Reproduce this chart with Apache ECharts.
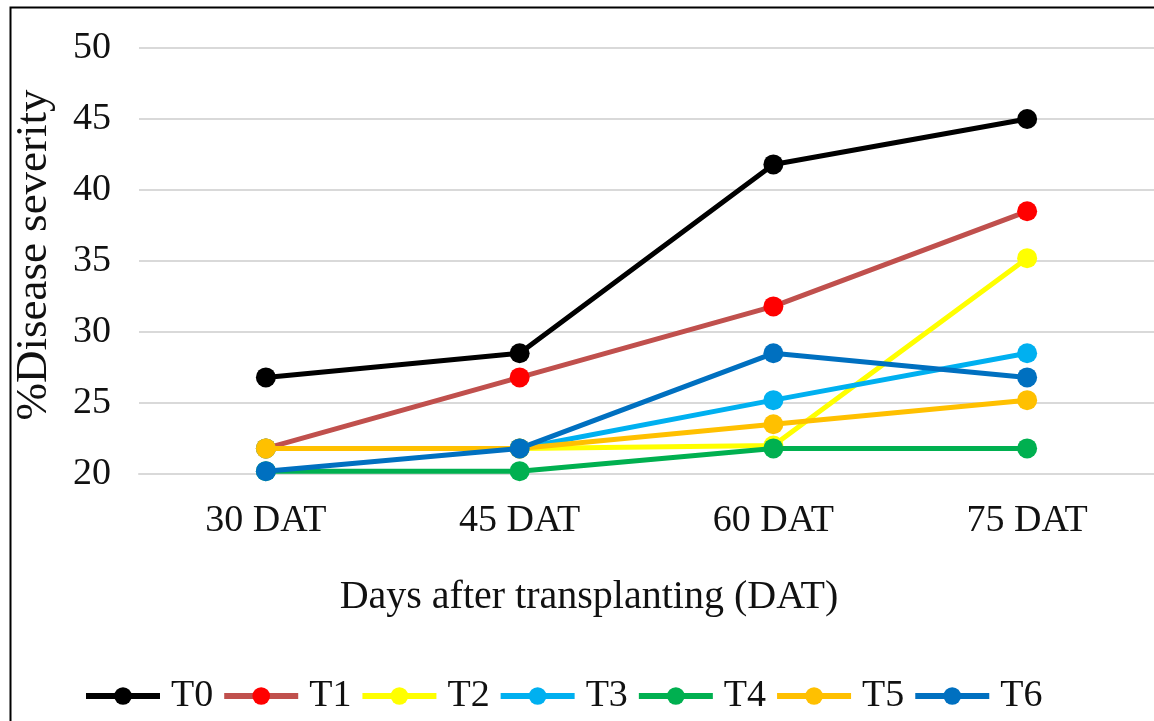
<!DOCTYPE html>
<html>
<head>
<meta charset="utf-8">
<script src="https://cdn.jsdelivr.net/npm/echarts@6/dist/echarts.min.js"></script>
<style>
  html, body { margin: 0; padding: 0; background: #fff; }
  #chart { width: 1154px; height: 721px; }
</style>
</head>
<body>
<div id="chart"></div>
<script>
// Sampling dates (days after transplanting)
const categories = ['30 DAT', '45 DAT', '60 DAT', '75 DAT'];

// Percent disease severity per treatment
const T0 = [26.8, 28.5, 41.8, 45.0];
const T1 = [21.8, 26.8, 31.8, 38.5];
const T2 = [21.8, 21.8, 22.0, 35.2];
const T3 = [21.8, 21.8, 25.2, 28.5];
const T4 = [20.2, 20.2, 21.8, 21.8];
const T5 = [21.8, 21.8, 23.5, 25.2];
const T6 = [20.2, 21.8, 28.5, 26.8];

const seriesNames = ['T0', 'T1', 'T2', 'T3', 'T4', 'T5', 'T6'];
const seriesData = [T0, T1, T2, T3, T4, T5, T6];
const lineColors = ['#000000', '#C0504D', '#FFFF00', '#00B0F0', '#00B050', '#FFC000', '#0070C0'];
const markerColors = ['#000000', '#FF0000', '#FFFF00', '#00B0F0', '#00B050', '#FFC000', '#0070C0'];

const yTicks = { min: 20, max: 50, interval: 5 };
const xTitle = 'Days after transplanting (DAT)';
const yTitle = '%Disease severity';

const FONT = '"Liberation Serif", "Times New Roman", serif';
const TEXT = '#111111';

const chart = echarts.init(document.getElementById('chart'), null, { renderer: 'canvas' });

chart.setOption({
  animation: false,
  backgroundColor: '#ffffff',
  textStyle: { fontFamily: FONT, color: TEXT },
  graphic: [
    {
      // chart frame
      type: 'rect',
      left: 8, top: 5,
      shape: { width: 1300, height: 900 },
      style: { fill: 'none', stroke: '#000000', lineWidth: 2 },
      silent: true
    },
    {
      // horizontal axis title, centred on the chart area
      type: 'text',
      x: 589, y: 597,
      style: {
        text: xTitle,
        font: '40px ' + FONT,
        fill: TEXT,
        align: 'center',
        verticalAlign: 'middle'
      },
      silent: true
    }
  ],
  grid: { left: 139, right: 0, top: 48, bottom: 247 },
  legend: {
    bottom: 1,
    left: 78,
    itemWidth: 74,
    itemHeight: 22,
    itemGap: 8,
    lineStyle: { width: 6 },
    textStyle: { fontFamily: FONT, fontSize: 38, color: TEXT, padding: [0, 0, 0, 6] },
    data: seriesNames
  },
  xAxis: {
    type: 'category',
    data: categories,
    boundaryGap: true,
    axisLine: { show: true, lineStyle: { color: '#d9d9d9', width: 2 } },
    axisTick: { show: false },
    axisLabel: { fontFamily: FONT, fontSize: 38, color: TEXT, margin: 28 }
  },
  yAxis: {
    type: 'value',
    min: yTicks.min,
    max: yTicks.max,
    interval: yTicks.interval,
    axisLine: { show: false },
    axisTick: { show: false },
    splitLine: { lineStyle: { color: '#d9d9d9', width: 2 } },
    axisLabel: { fontFamily: FONT, fontSize: 38, color: TEXT, margin: 28 },
    name: yTitle,
    nameLocation: 'middle',
    nameGap: 82,
    nameRotate: 90,
    nameTextStyle: { fontFamily: FONT, fontSize: 45, color: TEXT, padding: [0, 0, 0, 12] }
  },
  series: seriesNames.map((name, i) => ({
    name: name,
    type: 'line',
    data: seriesData[i],
    symbol: 'circle',
    symbolSize: 20,
    showSymbol: true,
    lineStyle: { color: lineColors[i], width: 5 },
    itemStyle: { color: markerColors[i] },
    z: 2 + i
  }))
});
</script>
</body>
</html>
